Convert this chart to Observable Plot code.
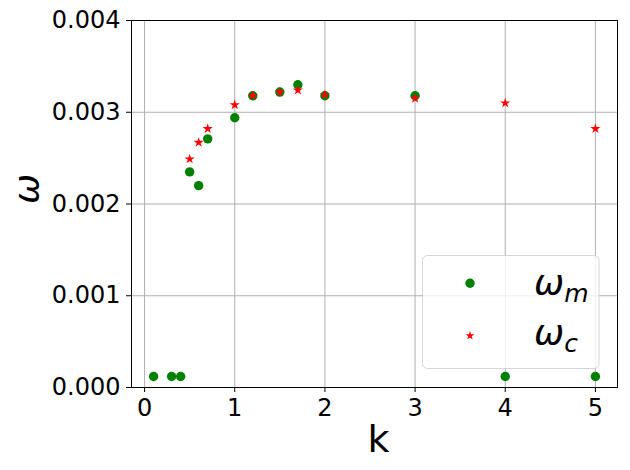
<!DOCTYPE html>
<html><head><meta charset="utf-8">
<script src="https://cdn.jsdelivr.net/npm/d3@7"></script>
<script src="https://cdn.jsdelivr.net/npm/@observablehq/plot@0.6"></script>
<style>
body{margin:0;background:#fff;font-family:"DejaVu Sans",sans-serif;}
#wrap{position:relative;width:630px;height:470px;}
#wrap svg{display:block;}
#legend{position:absolute;left:0;top:0;pointer-events:none;}
</style></head><body><div id="wrap"></div>
<script>
// ω_m (measured) values
const kM = [0.1, 0.3, 0.4, 0.5, 0.6, 0.7, 1.0, 1.2, 1.5, 1.7, 2, 3, 4, 5];
const omegaM = [0.00012, 0.00012, 0.00012, 0.00235, 0.00220, 0.00271, 0.00294, 0.00318, 0.00322, 0.00330, 0.00318, 0.00318, 0.00012, 0.00012];
// ω_c (computed) values
const kC = [0.5, 0.6, 0.7, 1.0, 1.2, 1.5, 1.7, 2, 3, 4, 5];
const omegaC = [0.00249, 0.00267, 0.00282, 0.00308, 0.00318, 0.00322, 0.00324, 0.00319, 0.00315, 0.00310, 0.00282];
const xTicks = [0, 1, 2, 3, 4, 5];
const yTicks = [0, 0.001, 0.002, 0.003, 0.004];
const seriesLabels = ["m", "c"];
const seriesColors = ["green", "red"];

const dataM = kM.map((k, i) => ({k, w: omegaM[i]}));
const dataC = kC.map((k, i) => ({k, w: omegaC[i]}));

const FONT = "DejaVu Sans";
const chart = Plot.plot({
  width: 630, height: 470,
  marginLeft: 131, marginRight: 13, marginTop: 20, marginBottom: 83,
  style: {fontFamily: FONT, color: "black", background: "white"},
  x: {domain: [-0.145, 5.245]},
  y: {domain: [0, 0.004]},
  marks: [
    Plot.gridX(xTicks, {stroke: "#b0b0b0", strokeOpacity: 1, strokeWidth: 1}),
    Plot.gridY(yTicks, {stroke: "#b0b0b0", strokeOpacity: 1, strokeWidth: 1}),
    Plot.axisX(xTicks, {tickSize: 5, tickPadding: 6, fontSize: 24, label: null, stroke: "black"}),
    Plot.axisY(yTicks, {tickSize: 5, tickPadding: 6, fontSize: 24, label: null, tickFormat: d3.format(".3f"), stroke: "black"}),
    Plot.dot(dataM, {x: "k", y: "w", r: 4.7, fill: seriesColors[0], stroke: "none"}),
    Plot.dot(dataC, {x: "k", y: "w", r: 3.2, symbol: "star", fill: seriesColors[1], stroke: "none"}),
    Plot.frame({stroke: "black", strokeWidth: 1}),
    Plot.text(["k"], {text: d => d, frameAnchor: "bottom", dy: 64, dx: 4, fontSize: 38, fill: "black"}),
    Plot.text(["ω"], {text: d => d, frameAnchor: "left", dx: -104, rotate: -90, fontSize: 36, fontStyle: "italic", fill: "black"})
  ]
});
const wrap = document.getElementById("wrap");
wrap.appendChild(chart);

// legend overlay
const lg = d3.select(wrap).append("svg").attr("id", "legend")
  .attr("width", 630).attr("height", 470)
  .style("font-family", FONT);
lg.append("rect").attr("x", 422.5).attr("y", 255.5).attr("width", 176.5).attr("height", 113)
  .attr("rx", 5).attr("fill", "white").attr("fill-opacity", 0.8)
  .attr("stroke", "#cccccc").attr("stroke-opacity", 0.8).attr("stroke-width", 1);
const rows = [
  {y: 283.3, base: 295, sym: d3.symbolCircle, r: 4.7},
  {y: 335.7, base: 345, sym: d3.symbolStar, r: 2.8}
];
rows.forEach((row, i) => {
  lg.append("path")
    .attr("d", d3.symbol(row.sym, Math.PI * row.r * row.r)())
    .attr("transform", `translate(470,${row.y})`)
    .attr("fill", seriesColors[i]);
  const t = lg.append("text").attr("x", 534).attr("y", row.base)
    .attr("font-size", 36).attr("font-style", "italic").attr("fill", "black");
  t.append("tspan").text("ω");
  t.append("tspan").attr("font-size", 25).attr("dy", 7).text(seriesLabels[i]);
});
</script>
</body></html>
